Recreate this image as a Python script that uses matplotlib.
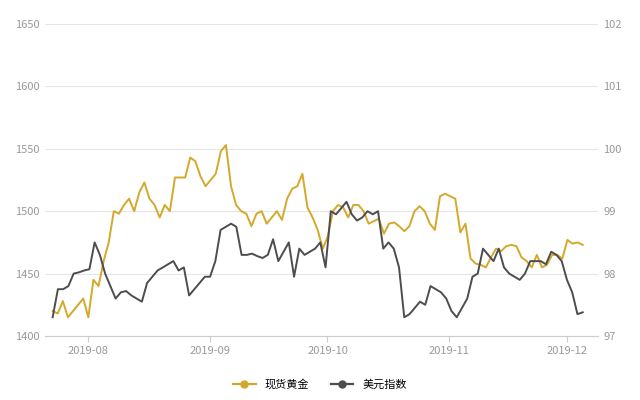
import matplotlib.pyplot as plt
import matplotlib.dates as mdates
import numpy as np
import pandas as pd

plt.rcParams['font.family'] = ['Noto Sans CJK SC', 'DejaVu Sans']

gold = [1420, 1418, 1428, 1415, 1420, 1425, 1430, 1415, 1445, 1440, 1460, 1475, 1500, 1498,
        1505, 1510, 1500, 1515, 1523, 1510, 1505, 1495, 1505, 1500, 1527, 1527, 1527, 1543,
        1540, 1528, 1520, 1525, 1530, 1548, 1553, 1520, 1505, 1500, 1498, 1488, 1498, 1500,
        1490, 1495, 1500, 1493, 1510, 1518, 1520, 1530, 1503, 1495, 1485, 1470, 1480, 1500,
        1505, 1503, 1495, 1505, 1505, 1500, 1490, 1492, 1494, 1482, 1490, 1491, 1488, 1484,
        1488, 1500, 1504, 1500, 1490, 1485, 1512, 1514, 1512, 1510, 1483, 1490, 1462, 1458,
        1457, 1455, 1463, 1470, 1468, 1472, 1473, 1472, 1463, 1460, 1455, 1465, 1455, 1457,
        1465, 1465, 1462, 1477, 1474, 1475, 1473]
usd = [97.3, 97.75, 97.75, 97.8, 98.0, 98.02, 98.05, 98.07, 98.5, 98.3, 98.0, 97.8, 97.6, 97.7,
       97.72, 97.65, 97.6, 97.55, 97.85, 97.95, 98.05, 98.1, 98.15, 98.2, 98.05, 98.1, 97.65,
       97.75, 97.85, 97.95, 97.95, 98.2, 98.7, 98.75, 98.8, 98.75, 98.3, 98.3, 98.32, 98.28,
       98.25, 98.3, 98.55, 98.2, 98.35, 98.5, 97.95, 98.4, 98.3, 98.35, 98.4, 98.5, 98.1, 99.0,
       98.95, 99.05, 99.15, 98.95, 98.85, 98.9, 99.0, 98.95, 99.0, 98.4, 98.5, 98.4, 98.1, 97.3,
       97.35, 97.45, 97.55, 97.5, 97.8, 97.75, 97.7, 97.6, 97.4, 97.3, 97.45, 97.6, 97.95, 98.0,
       98.4, 98.3, 98.2, 98.4, 98.1, 98.0, 97.95, 97.9, 98.0, 98.2, 98.2, 98.2, 98.15, 98.35,
       98.3, 98.2, 97.9, 97.7, 97.35, 97.38]

start, end = pd.Timestamp('2019-07-23'), pd.Timestamp('2019-12-05')
gold_dates = pd.date_range(start, end, periods=len(gold))
usd_dates = pd.date_range(start, end, periods=len(usd))

gold_c = '#d4a82c'
usd_c = '#4d4d4d'
tick_c = '#999999'

fig, ax = plt.subplots(figsize=(6.4, 4.0), dpi=100)
fig.subplots_adjust(left=0.07, right=0.935, top=0.94, bottom=0.16)
ax2 = ax.twinx()

ax.plot(gold_dates, gold, color=gold_c, lw=1.4)
ax2.plot(usd_dates, usd, color=usd_c, lw=1.4)

ax.set_ylim(1400, 1650)
ax.set_yticks(np.arange(1400, 1651, 50))
ax2.set_ylim(97, 102)
ax2.set_yticks(np.arange(97, 103, 1))
ax.set_xlim(pd.Timestamp('2019-07-21'), pd.Timestamp('2019-12-09'))
ax.xaxis.set_major_locator(mdates.MonthLocator())
ax.xaxis.set_major_formatter(mdates.DateFormatter('%Y-%m'))

ax.grid(axis='y', color='#e6e6e6', lw=0.8)
for a in (ax, ax2):
    for s in a.spines.values():
        s.set_visible(False)
    a.tick_params(colors=tick_c, labelsize=8, length=0)
ax.spines['bottom'].set_visible(True)
ax.spines['bottom'].set_color('#cccccc')
ax.tick_params(axis='x', length=4, color='#cccccc')

h1 = plt.Line2D([], [], color=gold_c, lw=1.6, marker='o', markersize=5)
h2 = plt.Line2D([], [], color=usd_c, lw=1.6, marker='o', markersize=5)
fig.legend([h1, h2], ['现货黄金', '美元指数'], loc='lower center', ncol=2, frameon=False,
           fontsize=8, bbox_to_anchor=(0.5, 0.0), handlelength=2)

fig.savefig('out.png')
